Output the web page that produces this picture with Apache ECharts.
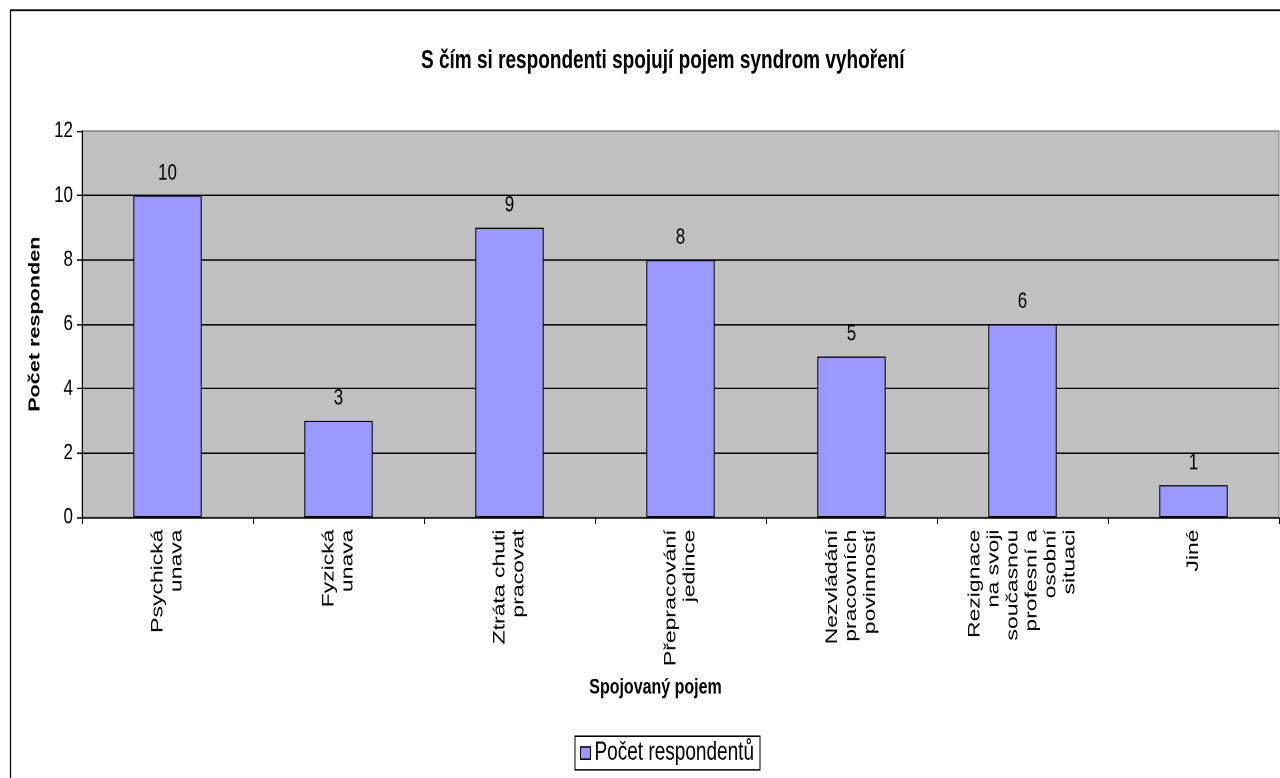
<!DOCTYPE html>
<html>
<head>
<meta charset="utf-8">
<script src="https://cdn.jsdelivr.net/npm/echarts@6/dist/echarts.min.js"></script>
<style>
  html, body { margin: 0; padding: 0; background: #fff; overflow: hidden; }
  #wrap { width: 1280px; height: 778px; overflow: hidden; }
  /* the chart is laid out on a shorter canvas and stretched vertically */
  #chart { width: 1280px; height: 576px; transform: scaleY(1.3507); transform-origin: 0 0; }
</style>
</head>
<body>
<div id="wrap"><div id="chart"></div></div>
<script>
const categories = [
  'Psychická\nunava',
  'Fyzická\nunava',
  'Ztráta chuti\npracovat',
  'Přepracování\njedince',
  'Nezvládání\npracovních\npovinností',
  'Rezignace\nna svoji\nsoučasnou\nprofesní a\nosobní\nsituaci',
  'Jiné'
];
const respondentCounts = [10, 3, 9, 8, 5, 6, 1];
const yTicks = [0, 2, 4, 6, 8, 10, 12];

const seriesName = 'Počet respondentů';
const chartTitle = 'S čím si respondenti spojují pojem syndrom vyhoření';
const xAxisTitle = 'Spojovaný pojem';
const yAxisTitle = 'Počet responden';

const FONT = '"Liberation Sans", Arial, sans-serif';

const chart = echarts.init(document.getElementById('chart'), null, { renderer: 'canvas', devicePixelRatio: 2 });

chart.setOption({
  animation: false,
  backgroundColor: '#ffffff',
  textStyle: { fontFamily: FONT, color: '#000' },
  title: {
    text: chartTitle,
    left: 416,
    top: 31,
    textStyle: { fontFamily: FONT, fontSize: 19, fontWeight: 'bold', color: '#000' }
  },
  graphic: [{
    type: 'rect',
    shape: { x: 10.5, y: 7.5, width: 1400, height: 700 },
    style: { fill: 'none', stroke: '#000', lineWidth: 1.2 },
    z: 100,
    silent: true
  }],
  legend: {
    left: 575,
    top: 545,
    orient: 'horizontal',
    icon: 'rect',
    itemWidth: 10,
    itemHeight: 9,
    itemGap: 4,
    padding: [3, 6, 3, 5],
    borderColor: '#000',
    borderWidth: 1,
    textStyle: { fontFamily: FONT, fontSize: 19, color: '#000', padding: [0, 0, 0, -1] },
    itemStyle: { borderColor: '#000', borderWidth: 1 },
    data: [seriesName]
  },
  grid: {
    left: 82,
    right: 1,
    top: 97,
    bottom: 193,
    show: true,
    backgroundColor: '#C0C0C0',
    borderColor: '#808080',
    borderWidth: 1,
    containLabel: false
  },
  xAxis: {
    type: 'category',
    data: categories,
    name: xAxisTitle,
    nameLocation: 'middle',
    nameGap: 118,
    nameTextStyle: { fontFamily: FONT, fontSize: 16, fontWeight: 'bold', color: '#000', padding: [0, 50, 0, 0] },
    axisLine: { show: true, lineStyle: { color: '#000', width: 1 } },
    axisTick: { show: true, length: 5, lineStyle: { color: '#000' } },
    axisLabel: {
      rotate: 90,
      interval: 0,
      margin: 9,
      fontFamily: FONT,
      fontSize: 17,
      lineHeight: 19,
      color: '#000'
    },
    splitLine: { show: false }
  },
  yAxis: {
    type: 'value',
    min: yTicks[0],
    max: yTicks[yTicks.length - 1],
    interval: 2,
    name: yAxisTitle,
    nameLocation: 'middle',
    nameGap: 31,
    nameTextStyle: { fontFamily: FONT, fontSize: 16, fontWeight: 'bold', color: '#000' },
    axisLine: { show: true, lineStyle: { color: '#000', width: 1 } },
    axisTick: { show: true, length: 5, lineStyle: { color: '#000' } },
    axisLabel: { margin: 9, fontFamily: FONT, fontSize: 17, color: '#000' },
    splitLine: { show: true, showMaxLine: false, lineStyle: { color: '#000', width: 1 } }
  },
  series: [{
    name: seriesName,
    type: 'bar',
    data: respondentCounts,
    barWidth: '40%',
    itemStyle: { color: '#9999FF', borderColor: '#000', borderWidth: 1 },
    label: {
      show: true,
      position: 'top',
      distance: 8,
      fontFamily: FONT,
      fontSize: 17,
      color: '#000'
    }
  }]
});
</script>
</body>
</html>
